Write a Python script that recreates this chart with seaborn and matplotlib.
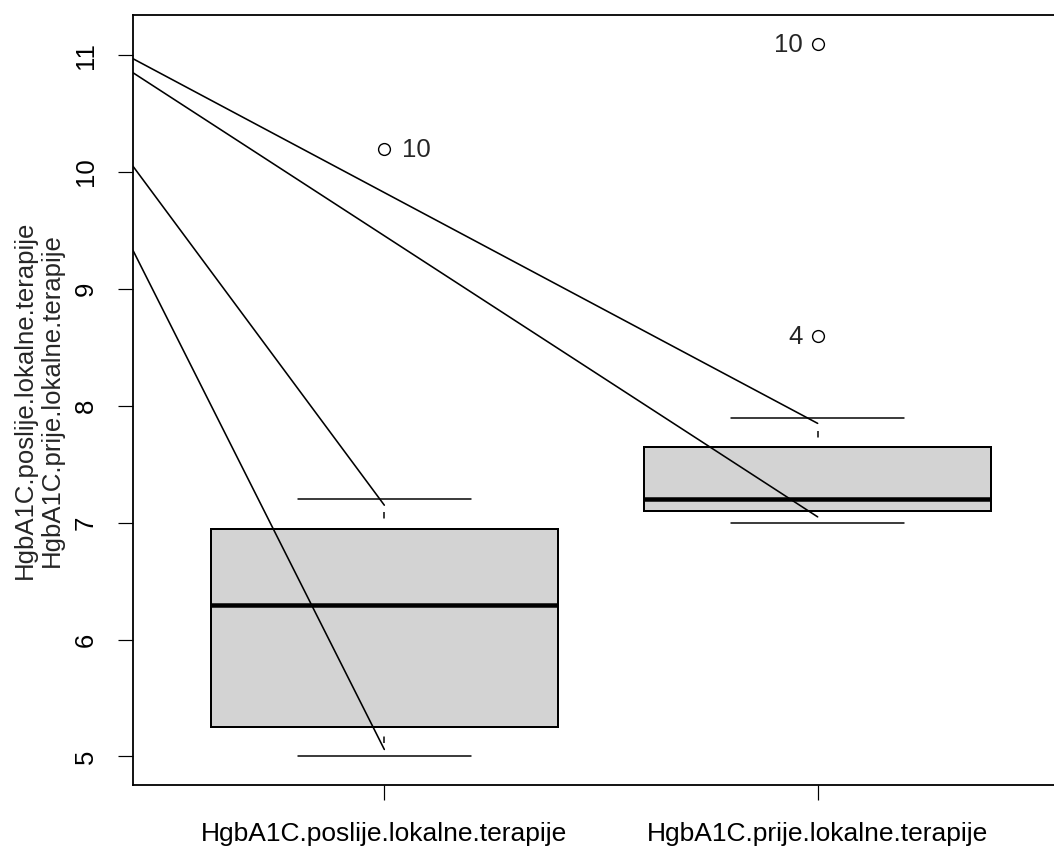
import numpy as np
import pandas as pd
import matplotlib
matplotlib.use("Agg")
import matplotlib.pyplot as plt
import seaborn as sns

# ---------------- data ----------------
groups = ["HgbA1C.poslije.lokalne.terapije", "HgbA1C.prije.lokalne.terapije"]
whis_lo = [5.0, 7.0]
q1 = [5.25, 7.1]
med = [6.3, 7.2]
q3 = [6.95, 7.65]
whis_hi = [7.2, 7.9]
outlier_vals = [[10.2], [11.1, 8.6]]
outlier_ids = [["10"], ["10", "4"]]

# connecting lines: value at the left plot edge -> value at a box
seg_start = [10.97, 10.85, 10.05, 9.33]
seg_end = [7.85, 7.05, 7.15, 5.06]
seg_group = [2, 2, 1, 1]

y_ticks = [5, 6, 7, 8, 9, 10, 11]

# ---------------- style ----------------
sns.set_style("white")
plt.rcParams["font.family"] = ["Liberation Sans", "DejaVu Sans"]
plt.rcParams["lines.scale_dashes"] = False

DPI = 100
fig = plt.figure(figsize=(10.54, 8.47), dpi=DPI)
px = 72.0 / DPI  # points per pixel
ax = fig.add_axes([133 / 1054, 62 / 847, (1069 - 133) / 1054, (785 - 15) / 847])

positions = [1, 2]
all_vals = [v for o in outlier_vals for v in o] + whis_lo + whis_hi
rng = max(all_vals) - min(all_vals)
ax.set_ylim(min(all_vals) - 0.04 * rng, max(all_vals) + 0.04 * rng)
ax.set_xlim(0.5 - 0.04 * 2, 2.5 + 0.04 * 2)

FS = 18.5

# ---------------- boxes ----------------
stats = []
for i in range(len(groups)):
    stats.append(dict(whislo=whis_lo[i], q1=q1[i], med=med[i], q3=q3[i],
                      whishi=whis_hi[i], fliers=outlier_vals[i], label=groups[i]))

bp = ax.bxp(stats, positions=positions, widths=0.8, capwidths=0.4,
            patch_artist=True, manage_ticks=False,
            boxprops=dict(facecolor="#D3D3D3", edgecolor="black", linewidth=2.0 * px),
            medianprops=dict(color="black", linewidth=4.5 * px),
            capprops=dict(color="black", linewidth=1.5 * px),
            whiskerprops=dict(color="black", linewidth=1.5 * px),
            flierprops=dict(marker="o", markerfacecolor="none", markeredgecolor="black",
                            markersize=8.5, markeredgewidth=1.0))

# whiskers drawn from the staple towards the box with an R-like dash
for w in bp["whiskers"]:
    xd, yd = w.get_data()
    w.set_data(xd[::-1], yd[::-1])
    w.set_linestyle((7.5 * px, (6.5 * px, 14 * px)))

# ---------------- connecting lines ----------------
x0 = ax.get_xlim()[0]
rows = []
for k in range(len(seg_start)):
    rows.append(dict(seg=k, x=x0, y=seg_start[k]))
    rows.append(dict(seg=k, x=positions[seg_group[k] - 1], y=seg_end[k]))
df = pd.DataFrame(rows)
sns.lineplot(data=df, x="x", y="y", units="seg", estimator=None, sort=False,
             color="black", linewidth=1.6 * px, ax=ax, legend=False)

# ---------------- outlier labels ----------------
for i in range(len(groups)):
    for v, lab in zip(outlier_vals[i], outlier_ids[i]):
        if i == 0:
            ax.annotate(lab, (positions[i], v), xytext=(18 * px, -1 * px), textcoords="offset points",
                        ha="left", va="center", fontsize=FS)
        else:
            ax.annotate(lab, (positions[i], v), xytext=(-15 * px, -1 * px), textcoords="offset points",
                        ha="right", va="center", fontsize=FS)

# ---------------- axes ----------------
ax.set_xticks(positions)
ax.set_xticklabels(groups, fontsize=19)
ax.set_yticks(y_ticks)
ax.set_yticklabels([str(t) for t in y_ticks], fontsize=FS, rotation=90, va="center")
ax.tick_params(axis="both", direction="out", length=15 * px, width=1.2 * px,
               color="black", labelcolor="black")
ax.tick_params(axis="y", pad=20 * px, left=True)
ax.tick_params(axis="x", pad=22 * px, bottom=True)
ax.set_xlabel("")
ax.set_ylabel("")
for s in ["left", "top", "bottom"]:
    ax.spines[s].set_visible(True)
    ax.spines[s].set_color("black")
    ax.spines[s].set_linewidth(1.3)
ax.spines["right"].set_visible(False)
ax.grid(False)

fig.text(38 / 1054, 1 - 400 / 847,
         "HgbA1C.poslije.lokalne.terapije\nHgbA1C.prije.lokalne.terapije",
         rotation=90, ha="center", va="center", multialignment="center", fontsize=FS,
         linespacing=1.15)

fig.savefig("out.png", dpi=DPI)
